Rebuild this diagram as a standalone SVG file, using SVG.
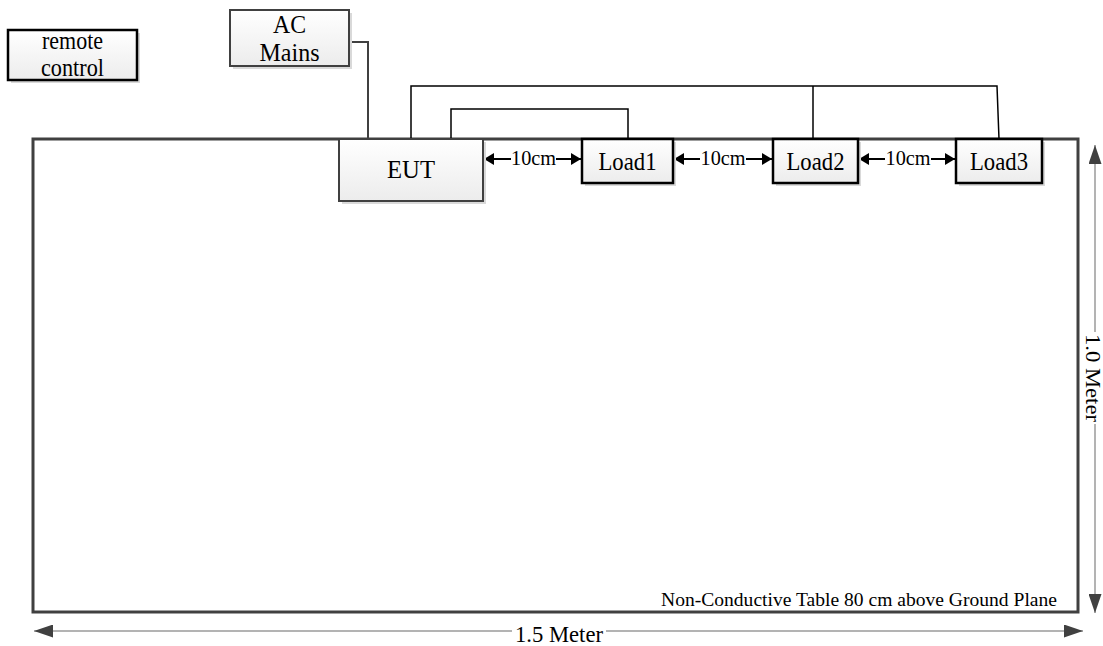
<svg xmlns="http://www.w3.org/2000/svg" width="1103" height="646" viewBox="0 0 1103 646" font-family="'Liberation Serif', 'Times New Roman', serif">
<defs>
<linearGradient id="g" x1="0" y1="0" x2="0" y2="1"><stop offset="0" stop-color="#ffffff"/><stop offset="1" stop-color="#ececec"/></linearGradient>
<marker id="ah" viewBox="0 0 10 12" refX="10" refY="6" markerWidth="10" markerHeight="12" markerUnits="userSpaceOnUse" orient="auto-start-reverse"><path d="M0,0 L10,6 L0,12 Z" fill="#000"/></marker>
<marker id="dh" viewBox="0 0 19 13" refX="19" refY="6.5" markerWidth="19" markerHeight="13" markerUnits="userSpaceOnUse" orient="auto-start-reverse"><path d="M0,0 L19,6.5 L0,13 Z" fill="#404040"/></marker>
</defs>
<style>
text{font-family:'Liberation Serif','Times New Roman',serif;fill:#000}
.lbl{font-size:25px;text-anchor:middle}
.dim{font-size:20px;text-anchor:middle}
.shadow{fill:#d9d9d9}
.box{fill:url(#g)}
.blk{stroke:#000;stroke-width:2.5}
.gry{stroke:#404040;stroke-width:2}
.wire{fill:none;stroke:#000;stroke-width:1.5}
.dl{stroke:#9a9a9a;stroke-width:1.5;fill:none}
</style>
<g id="table">
<rect x="33" y="139" width="1045" height="473" fill="#fff" stroke="#404040" stroke-width="3"/>
<text x="1057" y="606" font-size="19.5" text-anchor="end" textLength="396" lengthAdjust="spacingAndGlyphs">Non-Conductive Table 80 cm above Ground Plane</text>
</g>
<g id="connectors">
<path d="M349,42 H368 V139" fill="none" stroke="#404040" stroke-width="2"/>
<path class="wire" d="M411,139 V86 H997 L999,139"/>
<path class="wire" d="M813,86 V139"/>
<path class="wire" d="M451,139 V109 H628 V139"/>
<line x1="511" y1="159" x2="484" y2="159" stroke="#000" stroke-width="2" marker-end="url(#ah)"/>
<line x1="556" y1="159" x2="581" y2="159" stroke="#000" stroke-width="2" marker-end="url(#ah)"/>
<line x1="700" y1="159" x2="674" y2="159" stroke="#000" stroke-width="2" marker-end="url(#ah)"/>
<line x1="746" y1="159" x2="772" y2="159" stroke="#000" stroke-width="2" marker-end="url(#ah)"/>
<line x1="885" y1="159" x2="859" y2="159" stroke="#000" stroke-width="2" marker-end="url(#ah)"/>
<line x1="931" y1="159" x2="955" y2="159" stroke="#000" stroke-width="2" marker-end="url(#ah)"/>
<text class="dim" x="533.5" y="165" textLength="45" lengthAdjust="spacingAndGlyphs">10cm</text>
<text class="dim" x="723" y="165" textLength="45" lengthAdjust="spacingAndGlyphs">10cm</text>
<text class="dim" x="908" y="165" textLength="45" lengthAdjust="spacingAndGlyphs">10cm</text>
</g>
<g id="remote-control">
<rect class="shadow" x="11" y="33" width="129" height="50"/>
<rect class="box blk" x="8" y="30" width="129" height="50"/>
<text class="lbl" x="72.5" y="49" font-size="24" textLength="61" lengthAdjust="spacingAndGlyphs">remote</text>
<text class="lbl" x="72.5" y="76" font-size="24" textLength="63" lengthAdjust="spacingAndGlyphs">control</text>
</g>
<g id="ac-mains">
<rect class="shadow" x="233" y="13" width="119" height="56"/>
<rect class="box gry" x="230" y="10" width="119" height="56"/>
<text class="lbl" x="289.5" y="33" textLength="33" lengthAdjust="spacingAndGlyphs">AC</text>
<text class="lbl" x="289.5" y="61" textLength="60" lengthAdjust="spacingAndGlyphs">Mains</text>
</g>
<g id="eut">
<rect class="shadow" x="342" y="142" width="144" height="62"/>
<rect class="box gry" x="339" y="139" width="144" height="62"/>
<text class="lbl" x="411" y="178" font-size="26" textLength="48" lengthAdjust="spacingAndGlyphs">EUT</text>
</g>
<g id="load1">
<rect class="shadow" x="585" y="142" width="91" height="44"/>
<rect class="box blk" x="582" y="139" width="91" height="44"/>
<text class="lbl" x="627.5" y="170" textLength="58" lengthAdjust="spacingAndGlyphs">Load1</text>
</g>
<g id="load2">
<rect class="shadow" x="776" y="142" width="85" height="44"/>
<rect class="box blk" x="773" y="139" width="85" height="44"/>
<text class="lbl" x="815.5" y="170" textLength="58" lengthAdjust="spacingAndGlyphs">Load2</text>
</g>
<g id="load3">
<rect class="shadow" x="959" y="142" width="86" height="44"/>
<rect class="box blk" x="956" y="139" width="86" height="44"/>
<text class="lbl" x="999" y="170" textLength="58" lengthAdjust="spacingAndGlyphs">Load3</text>
</g>
<g id="dimensions">
<line class="dl" x1="512" y1="631" x2="34" y2="631" marker-end="url(#dh)"/>
<line class="dl" x1="606" y1="631" x2="1083" y2="631" marker-end="url(#dh)"/>
<text x="559" y="642" font-size="23.5" text-anchor="middle" textLength="88" lengthAdjust="spacingAndGlyphs">1.5 Meter</text>
<line class="dl" x1="1095" y1="332" x2="1095" y2="145" marker-end="url(#dh)"/>
<line class="dl" x1="1095" y1="424" x2="1095" y2="613" marker-end="url(#dh)"/>
<text transform="translate(1086,378) rotate(90)" x="0" y="0" font-size="21.5" text-anchor="middle" textLength="88" lengthAdjust="spacingAndGlyphs">1.0 Meter</text>
</g>
</svg>
